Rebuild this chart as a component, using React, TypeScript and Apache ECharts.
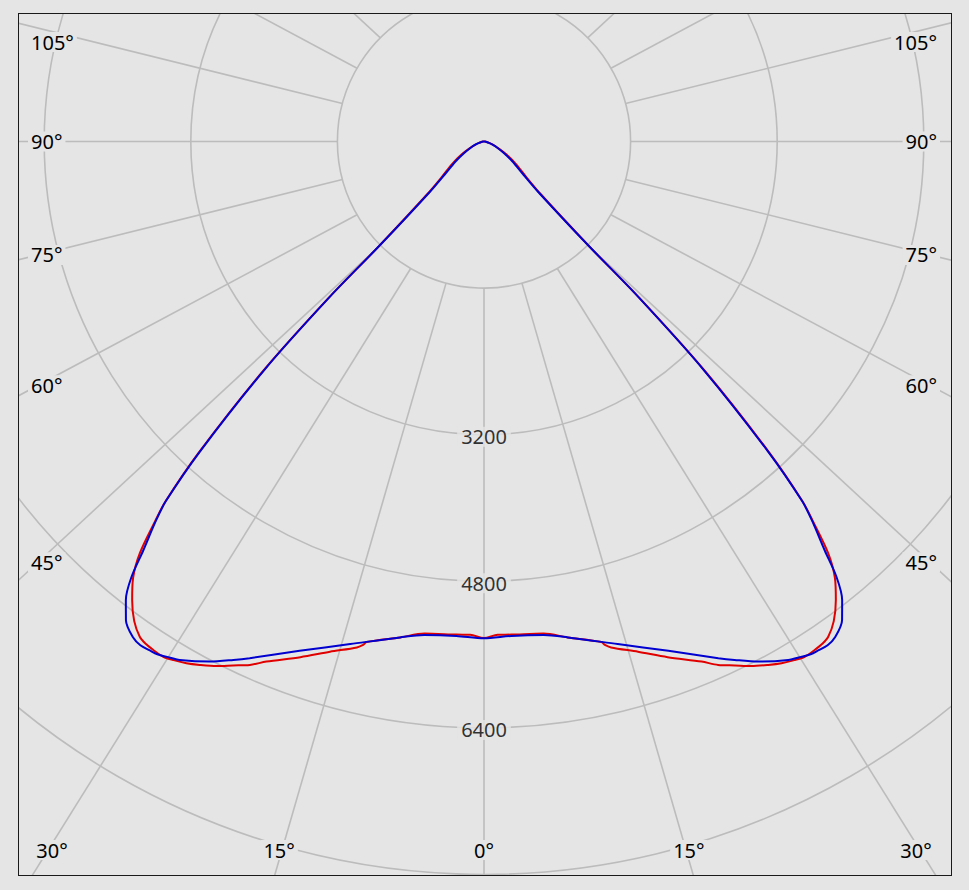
import React, { useEffect, useRef } from "react";
import * as echarts from "echarts";

// C90-C270 plane (blue): gamma angle (deg from nadir) and intensity (cd)
const blueGamma = [0, 3.2, 6.9, 9.6, 14.9, 19.9, 24.4, 25.8, 27.8, 30.4, 31.6, 32.5, 33.3, 34.3, 35.3, 36.8, 38.0, 39.0, 39.8, 40.9, 41.5, 42.5, 43.9, 44.8, 45.1, 47.1, 50, 55, 60, 65, 70, 75, 80, 85, 90];
const blueIntensity = [5422, 5405, 5426, 5489, 5676, 5912, 6192, 6285, 6417, 6560, 6604, 6635, 6645, 6655, 6630, 6524, 6349, 6112, 5810, 5461, 5240, 4590, 3450, 2386, 1601, 805, 560, 380, 250, 160, 95, 55, 28, 10, 0];

// C0-C180 plane (red)
const redGamma = [0, 1.6, 3.2, 6.9, 9.6, 13.2, 13.5, 14.1, 16.8, 19.6, 22.7, 24.1, 25.6, 27.0, 28.5, 29.7, 30.9, 31.9, 33.0, 34.0, 34.8, 36.1, 37.5, 38.8, 39.9, 40.9, 41.5, 42.5, 43.9, 44.8, 45.1, 47.1, 50, 55, 60, 65, 70, 75, 80, 85, 90];
const redIntensity = [5420, 5385, 5390, 5410, 5489, 5610, 5651, 5693, 5817, 5974, 6153, 6258, 6341, 6425, 6500, 6555, 6597, 6624, 6620, 6609, 6583, 6479, 6308, 6112, 5854, 5480, 5250, 4620, 3480, 2410, 1640, 850, 600, 420, 280, 170, 100, 58, 30, 11, 0];

const radiusTicks = [1600, 3200, 4800, 6400, 8000, 9600];
const radiusLabelValues = [3200, 4800, 6400];
const gridAngles = [-165, -150, -135, -120, -105, -90, -75, -60, -45, -30, -15, 0, 15, 30, 45, 60, 75, 90, 105, 120, 135, 150, 165, 180];
const angleLabelValues = [105, 90, 75, 60, 45, 30, 15, 0, -15, -30, -45, -60, -75, -90, -105];

const BG = "#e5e5e5";
const GRID = "#bcbcbc";
const FONT = '"Noto Sans", sans-serif';
const W = 932;
const H = 861;
const CX = 465;
const CY = 127.5;
const PX_PER_CD = 146.6 / 1600;
const R_MAX = 9600;
const STRETCH = 1.08;

function mirrored(g: number[], v: number[]) {
  const pts: number[][] = [];
  for (let i = g.length - 1; i >= 0; i--) pts.push([v[i], -g[i]]);
  for (let i = 1; i < g.length; i++) pts.push([v[i], g[i]]);
  return pts;
}

function gridSegment(a: number) {
  const rad = (a * Math.PI) / 180;
  const s = Math.sin(rad);
  const c = Math.cos(rad);
  const r0 = radiusTicks[0];
  const sx = r0 * s;
  const sy = r0 * c;
  const dx = STRETCH * s;
  const dy = c;
  const n = Math.hypot(dx, dy);
  const L = 12000;
  const ex = sx + (L * dx) / n;
  const ey = sy + (L * dy) / n;
  return [
    [r0, a],
    [Math.hypot(ex, ey), (Math.atan2(ex, ey) * 180) / Math.PI],
  ];
}

function angleLabelPos(a: number) {
  const rad = (a * Math.PI) / 180;
  const s = Math.sin(rad);
  const c = Math.cos(rad);
  const r1 = radiusTicks[0] * PX_PER_CD;
  const sx = CX - r1 * s;
  const sy = CY + r1 * c;
  const dx = -STRETCH * s;
  const dy = c;
  const leftX = 19;
  const rightX = 911;
  const bottomY = 846;
  let tSide = Infinity;
  if (dx < -1e-9) tSide = (leftX - sx) / dx;
  else if (dx > 1e-9) tSide = (rightX - sx) / dx;
  const tBottom = dy > 1e-9 ? (bottomY - sy) / dy : Infinity;
  if (tBottom < tSide) {
    const x = Math.min(897, Math.max(33, sx + tBottom * dx));
    return { x, y: 836, align: "center" };
  }
  const y = Math.min(836, Math.max(28, sy + tSide * dy));
  return dx < 0 ? { x: 9, y, align: "left" } : { x: 921, y, align: "right" };
}

export default function App() {
  const ref = useRef<HTMLDivElement>(null);

  useEffect(() => {
    if (!ref.current) return;
    const chart = echarts.init(ref.current, null, { renderer: "svg" });

    const gridSeries = gridAngles.map((a) => ({
      type: "line",
      coordinateSystem: "polar",
      data: gridSegment(a),
      symbol: "none",
      silent: true,
      z: 1,
      lineStyle: { color: GRID, width: 1.6 },
    }));

    const labels = angleLabelValues.map((a) => {
      const p = angleLabelPos(a);
      return {
        type: "text",
        x: p.x,
        y: p.y,
        z: 100,
        silent: true,
        style: {
          text: `${Math.abs(a)}°`,
          fill: "#000",
          font: `20px ${FONT}`,
          align: p.align,
          verticalAlign: "middle",
          backgroundColor: BG,
          padding: [0, 3],
        },
      };
    });

    chart.setOption({
      animation: false,
      backgroundColor: BG,
      polar: { center: [CX, CY], radius: R_MAX * PX_PER_CD },
      angleAxis: {
        type: "value",
        min: -180,
        max: 180,
        startAngle: 90,
        clockwise: true,
        axisLine: { show: false },
        axisTick: { show: false },
        axisLabel: { show: false },
        splitLine: { show: false },
      },
      radiusAxis: {
        type: "value",
        min: 0,
        max: R_MAX,
        interval: 1600,
        axisLine: { show: false },
        axisTick: { show: false },
        axisLabel: { show: false },
        splitLine: { show: true, lineStyle: { color: GRID, width: 1.6 } },
      },
      graphic: labels,
      series: [
        ...gridSeries,
        {
          type: "line",
          coordinateSystem: "polar",
          data: mirrored(redGamma, redIntensity),
          symbol: "none",
          smooth: 0.3,
          silent: true,
          z: 3,
          lineStyle: { color: "#e00000", width: 2 },
        },
        {
          type: "line",
          coordinateSystem: "polar",
          data: mirrored(blueGamma, blueIntensity),
          symbol: "none",
          smooth: 0.3,
          silent: true,
          z: 4,
          lineStyle: { color: "#0000d0", width: 2 },
        },
        {
          type: "scatter",
          coordinateSystem: "polar",
          data: radiusLabelValues.map((v) => [v, 0]),
          symbolSize: 1,
          silent: true,
          z: 10,
          itemStyle: { color: "rgba(0,0,0,0)" },
          label: {
            show: true,
            position: "inside",
            formatter: (p: any) => String(p.value[0]),
            color: "#000",
            fontSize: 20,
            fontFamily: FONT,
            backgroundColor: BG,
            padding: [0, 4],
            offset: [0, 2],
          },
        },
      ],
    });

    return () => chart.dispose();
  }, []);

  return (
    <div style={{ position: "absolute", left: 0, top: 0, width: 969, height: 890, background: BG }}>
      <div
        style={{
          position: "absolute",
          left: 18,
          top: 13,
          width: W + 2,
          height: H + 2,
          boxSizing: "border-box",
          border: "1px solid #1a1a1a",
          overflow: "hidden",
        }}
      >
        <div ref={ref} style={{ width: W, height: H }} />
      </div>
    </div>
  );
}
